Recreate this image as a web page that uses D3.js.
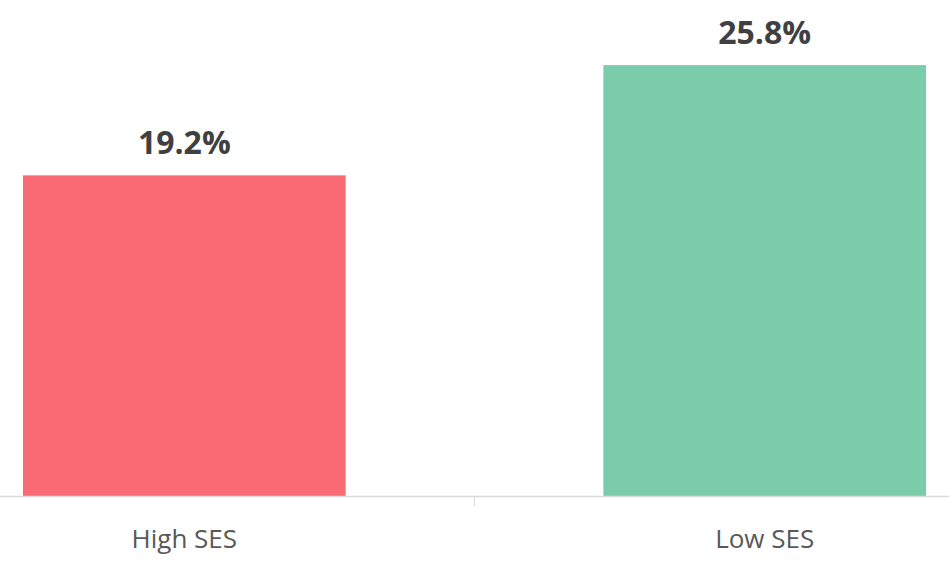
<!DOCTYPE html>
<html>
<head>
<meta charset="utf-8">
<script src="https://cdn.jsdelivr.net/npm/d3@7"></script>
<style>
  body { margin: 0; background: #fff; }
  svg { display: block; }
</style>
</head>
<body>
<div id="chart"></div>
<script>
// data
const categories = ["High SES", "Low SES"];
const values = [19.2, 25.8];
const colors = ["#F96A75", "#7BCCAB"];

barChart();

function barChart() {
    let width = 949,
        height = 562,
        baseline = 496;

    let svg = d3.select("#chart").append("svg")
        .attr("width", width)
        .attr("height", height);

    // x scale - bars sit a bit off-centre like the original
    let x = d3.scaleBand()
        .domain(categories)
        .range([0, width])
        .paddingInner(258 / 581)
        .paddingOuter(23 / 581);

    let y = d3.scaleLinear()
        .domain([0, 30])
        .range([baseline, baseline - 30 * 16.7]);

    let data = categories.map((c, i) => ({ name: c, value: values[i], col: colors[i] }));

    // bars
    svg.selectAll(".bar")
        .data(data)
        .enter()
        .append("rect")
        .attr("class", "bar")
        .attr("x", d => x(d.name))
        .attr("width", x.bandwidth())
        .attr("y", d => y(d.value))
        .attr("height", d => baseline - y(d.value))
        .attr("fill", d => d.col);

    // value labels
    svg.selectAll(".val")
        .data(data)
        .enter()
        .append("text")
        .attr("x", d => x(d.name) + x.bandwidth() / 2)
        .attr("y", d => y(d.value) - 21)
        .attr("text-anchor", "middle")
        .style("font-family", "'Open Sans', sans-serif")
        .style("font-weight", "bold")
        .style("font-size", "32px")
        .style("fill", "#404040")
        .text(d => d.value.toFixed(1) + "%");

    // x axis line
    svg.append("line")
        .attr("x1", 0)
        .attr("x2", width)
        .attr("y1", baseline + 0.5)
        .attr("y2", baseline + 0.5)
        .attr("stroke", "#d9d9d9")
        .attr("stroke-width", 1.5);

    // tick between the two categories
    let mid = (x(categories[0]) + x.bandwidth() + x(categories[1])) / 2;
    svg.append("line")
        .attr("x1", mid)
        .attr("x2", mid)
        .attr("y1", baseline)
        .attr("y2", baseline + 10)
        .attr("stroke", "#d9d9d9")
        .attr("stroke-width", 1);

    // category labels
    svg.selectAll(".cat")
        .data(data)
        .enter()
        .append("text")
        .attr("x", d => x(d.name) + x.bandwidth() / 2)
        .attr("y", 548)
        .attr("text-anchor", "middle")
        .style("font-family", "'Open Sans', sans-serif")
        .style("font-size", "26px")
        .style("fill", "#595959")
        .text(d => d.name);
}
</script>
</body>
</html>
